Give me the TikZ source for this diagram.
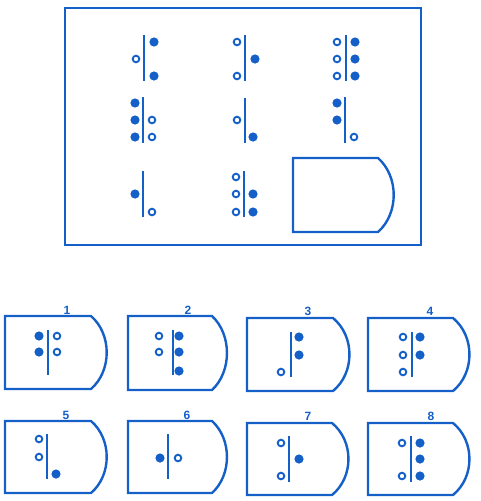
\documentclass[tikz,border=0pt]{standalone}
\usepackage{fontspec}
\setmainfont{Liberation Sans}
\definecolor{ink}{RGB}{20,95,200}
\newcommand\cardshape[5]{% left, top, corner x, bulge x, height
  \draw[frame] (#1,#2) -- (#3,#2) .. controls ({#3+0.75*(#4-#3)*1.33},{#2+0.25*#5}) and ({#3+0.75*(#4-#3)*1.33},{#2+0.75*#5}) .. (#3,{#2+#5}) -- (#1,{#2+#5}) -- cycle;}
\begin{document}
\begin{tikzpicture}[x=1pt,y=-1pt,
  frame/.style={draw=ink,line width=2.4pt,line join=miter},
  bar/.style={draw=ink,line width=2.2pt},
  fdot/.style={fill=ink},
  odot/.style={draw=ink,line width=1.9pt},
  lab/.style={text=ink,font=\bfseries\fontsize{12}{12}\selectfont,inner sep=0pt}]
\useasboundingbox (0,0) rectangle (480,501);
\newcommand\F[2]{\fill[fdot] (#1,#2) circle (4.6pt);}
\newcommand\Ow[2]{\draw[odot] (#1,#2) circle (3.3pt);}
\newcommand\B[3]{\draw[bar] (#1,#2) -- (#1,#3);}
% main frame
\draw[frame] (65,8) rectangle (421,245);
% row 1
\B{144}{35}{81} \F{154}{42} \Ow{136}{59} \F{154}{76}
\B{245}{35}{81} \Ow{237}{42} \F{255}{59} \Ow{237}{76}
\B{346}{35}{81} \Ow{337}{42} \Ow{337}{59} \Ow{337}{76} \F{355}{42} \F{355}{59} \F{355}{76}
% row 2
\B{143}{97}{143} \F{135}{103} \F{135}{120} \F{135}{137} \Ow{152}{120} \Ow{152}{137}
\B{245}{98}{143} \Ow{237}{120} \F{253}{137}
\B{345}{97}{143} \F{337}{103} \F{337}{120} \Ow{354}{137}
% row 3
\B{143}{171}{217} \F{135}{194} \Ow{152}{212}
\B{244}{171}{217} \Ow{236}{177} \Ow{236}{194} \Ow{236}{212} \F{253}{194} \F{253}{212}
\cardshape{293}{158}{378}{399}{74}
% answers row 1
\cardshape{5}{316}{91}{112}{73}
\node[lab] (l1) at (67,310) {1};
\B{48}{330}{375} \F{39}{336} \F{39}{352} \Ow{57}{336} \Ow{57}{352}
\cardshape{128}{316}{212}{232}{74}
\node[lab] (l2) at (188,310) {2};
\B{173}{330}{375} \Ow{159}{336} \Ow{159}{352} \F{179}{336} \F{179}{352} \F{179}{371}
\cardshape{247}{318}{333}{355}{73}
\node[lab] (l3) at (308,311) {3};
\B{291}{332}{377} \F{299}{337} \F{299}{355} \Ow{281}{372}
\cardshape{368}{318}{453}{475}{73}
\node[lab] (l4) at (430,311) {4};
\B{412}{332}{377} \Ow{403}{337} \Ow{403}{355} \Ow{403}{372} \F{420}{337} \F{420}{355}
% answers row 2
\cardshape{5}{421}{91}{112}{72}
\node[lab] (l5) at (66,415) {5};
\B{47}{434}{479} \Ow{39}{439} \Ow{39}{457} \F{56}{474}
\cardshape{128}{421}{212}{232}{72}
\node[lab] (l6) at (187,415) {6};
\B{168}{434}{479} \F{160}{458} \Ow{178}{458}
\cardshape{247}{423}{332}{354}{72}
\node[lab] (l7) at (308,416) {7};
\B{289}{436}{482} \Ow{281}{443} \Ow{281}{476} \F{299}{459}
\cardshape{368}{423}{453}{475}{72}
\node[lab] (l8) at (431,416) {8};
\B{411}{436}{482} \Ow{402}{443} \Ow{402}{476} \F{420}{443} \F{420}{459} \F{420}{476}
\end{tikzpicture}
\end{document}
